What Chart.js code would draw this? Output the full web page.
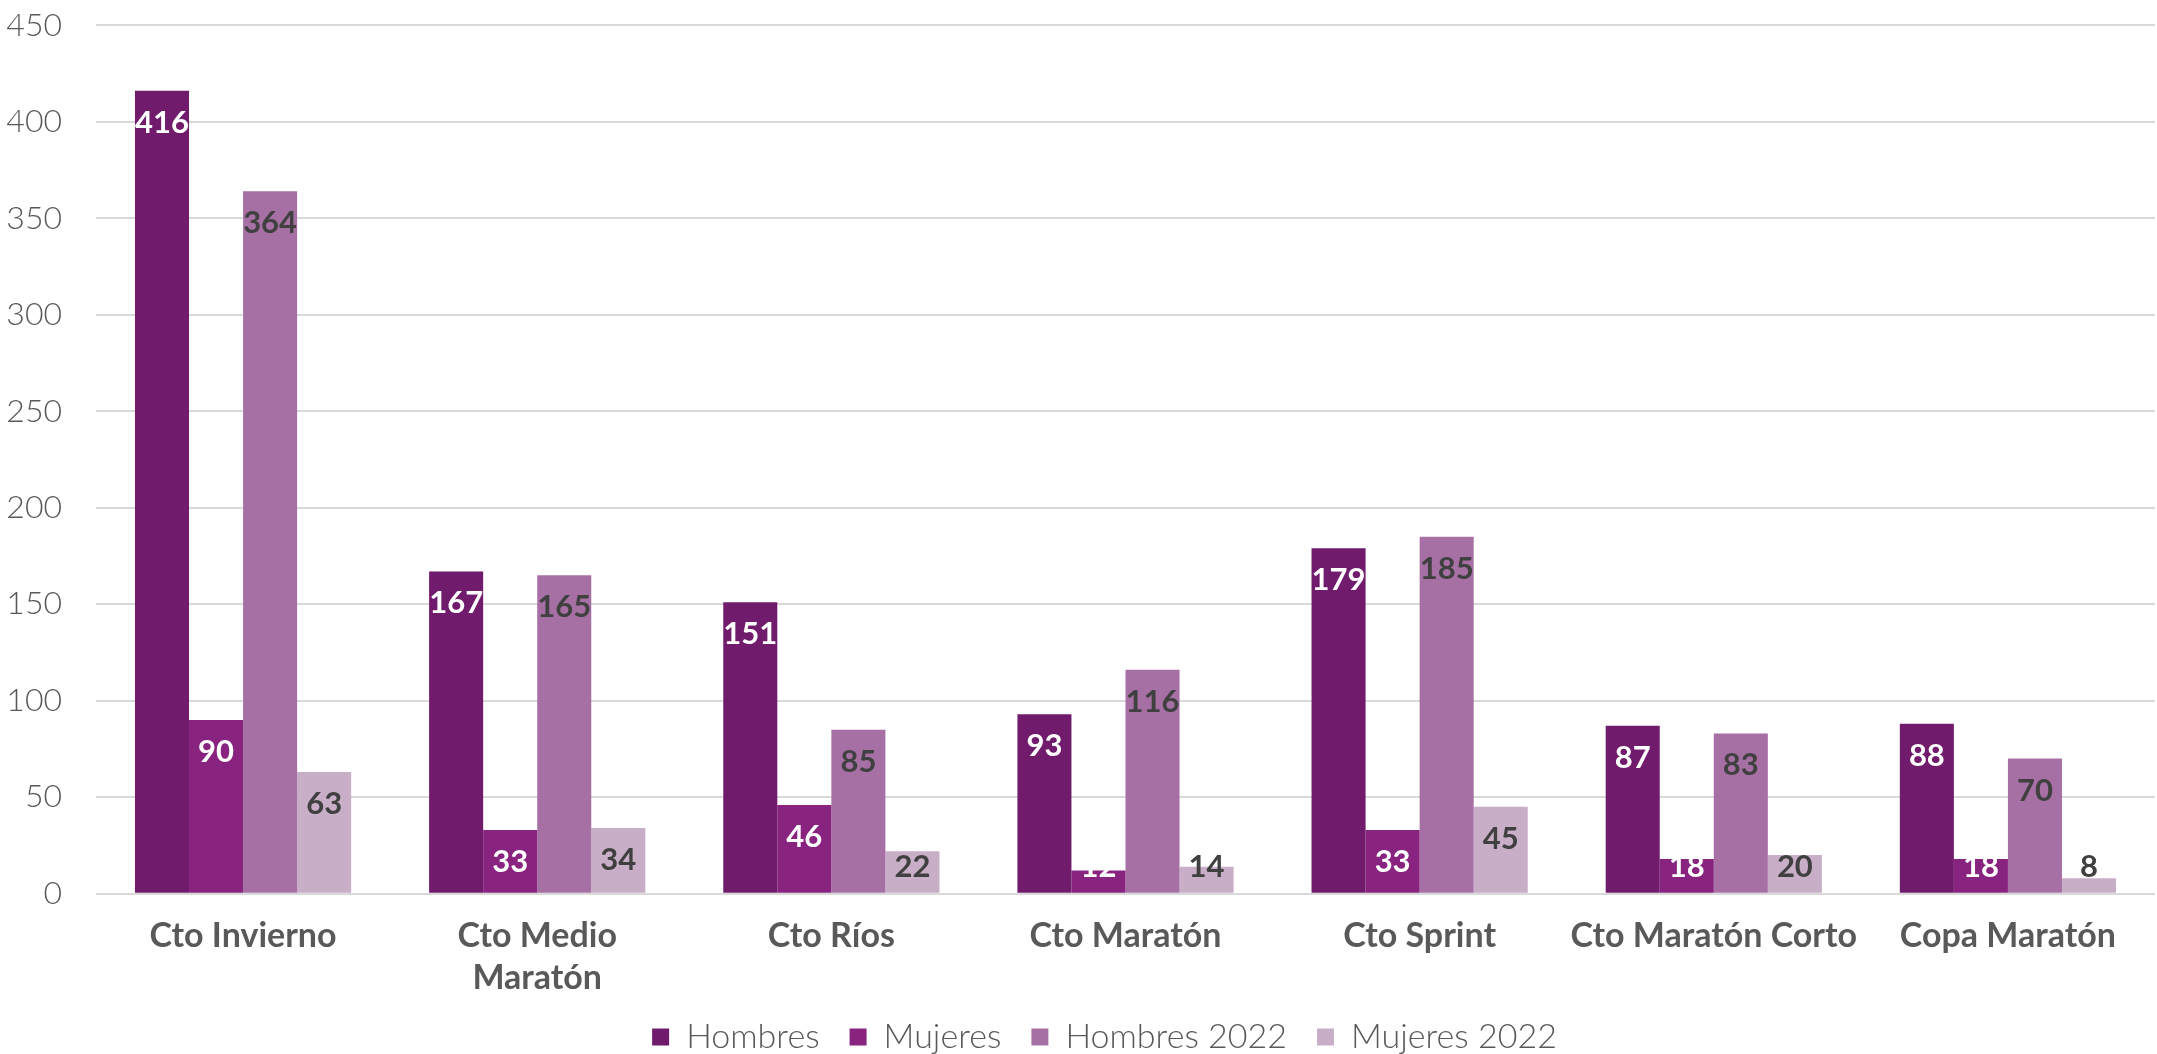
<!DOCTYPE html>
<html lang="es">
<head>
<meta charset="UTF-8" />
<title>Participación por campeonato</title>
<script src="https://cdn.jsdelivr.net/npm/chart.js"></script>
<style>
  html, body { margin: 0; padding: 0; background: #fff; height: 1054px; overflow: hidden; }
  #wrap { position: relative; top: -28px; width: 2157px; height: 1089px; }
</style>
</head>
<body>
<div id="wrap"><canvas id="chart"></canvas></div>
<script>
  // categorías (eje x)
  const categories = [
    'Cto Invierno',
    ['Cto Medio', 'Maratón'],
    'Cto Ríos',
    'Cto Maratón',
    'Cto Sprint',
    'Cto Maratón Corto',
    'Copa Maratón'
  ];

  // series
  const hombres      = [416, 167, 151, 93, 179, 87, 88];
  const mujeres      = [90, 33, 46, 12, 33, 18, 18];
  const hombres2022  = [364, 165, 85, 116, 185, 83, 70];
  const mujeres2022  = [63, 34, 22, 14, 45, 20, 8];

  const seriesNames  = ['Hombres', 'Mujeres', 'Hombres 2022', 'Mujeres 2022'];
  const yTicks       = [0, 50, 100, 150, 200, 250, 300, 350, 400, 450];

  const colors      = ['#711B6D', '#88237F', '#A670A5', '#C9AEC8'];
  const labelColors = ['#ffffff', '#ffffff', '#404040', '#404040'];
  const FONT = 'Lato, "DejaVu Sans", sans-serif';

  // etiquetas de valor dentro del extremo de cada barra
  const valueLabels = {
    id: 'valueLabels',
    afterDatasetsDraw(chart) {
      const ctx = chart.ctx;
      const base = chart.scales.y.getPixelForValue(0);
      ctx.save();
      ctx.font = 'bold 31px ' + FONT;
      ctx.textAlign = 'center';
      ctx.textBaseline = 'middle';
      chart.data.datasets.forEach((ds, i) => {
        chart.getDatasetMeta(i).data.forEach((bar, j) => {
          const y = Math.min(bar.y + 32, base - 27);
          ctx.fillStyle = labelColors[i];
          ctx.fillText(ds.data[j], bar.x, y);
        });
      });
      ctx.restore();
    }
  };

  // leyenda más compacta en vertical y algo desplazada a la derecha
  const legendTweak = {
    id: 'legendTweak',
    beforeLayout(chart) {
      const lg = chart.legend;
      if (!lg || lg._tweaked) return;
      lg._tweaked = true;
      const fit = lg.fit, draw = lg.draw;
      lg.fit = function () { fit.call(this); this.height = 63; };
      lg.draw = function () {
        const { top, left, right } = this;
        this.top -= 8; this.left += 27; this.right += 27;
        draw.call(this);
        this.top = top; this.left = left; this.right = right;
      };
    }
  };

  const allSeries = [hombres, mujeres, hombres2022, mujeres2022];

  new Chart(document.getElementById('chart').getContext('2d'), {
    type: 'bar',
    data: {
      labels: categories,
      datasets: allSeries.map((d, i) => ({
        label: seriesNames[i],
        data: d,
        backgroundColor: colors[i],
        borderWidth: 0,
        barPercentage: 1,
        categoryPercentage: 0.735
      }))
    },
    plugins: [valueLabels, legendTweak],
    options: {
      responsive: true,
      maintainAspectRatio: false,
      animation: false,
      layout: { padding: { top: 0, right: 2, left: 0, bottom: 0 } },
      plugins: {
        tooltip: { enabled: false },
        legend: {
          position: 'bottom',
          labels: {
            color: '#595959',
            font: { family: FONT, size: 34, weight: '300' },
            boxWidth: 17,
            boxHeight: 17,
            padding: 30
          }
        }
      },
      scales: {
        x: {
          afterFit(s) { s.height -= 22; },
          grid: { display: false, drawTicks: false },
          border: { display: false },
          ticks: {
            color: '#595959',
            font: { family: FONT, size: 34, weight: 'bold', lineHeight: 1.24 },
            padding: 21,
            maxRotation: 0,
            autoSkip: false
          }
        },
        y: {
          min: 0,
          max: 450,
          afterFit(s) { s.width = 96; },
          afterBuildTicks(s) { s.ticks = yTicks.map(v => ({ value: v })); },
          grid: { color: '#D9D9D9', lineWidth: 2, drawTicks: false },
          border: { display: false },
          ticks: {
            color: '#595959',
            font: { family: FONT, size: 32, weight: '300' },
            padding: 34
          }
        }
      }
    }
  });
</script>
</body>
</html>
